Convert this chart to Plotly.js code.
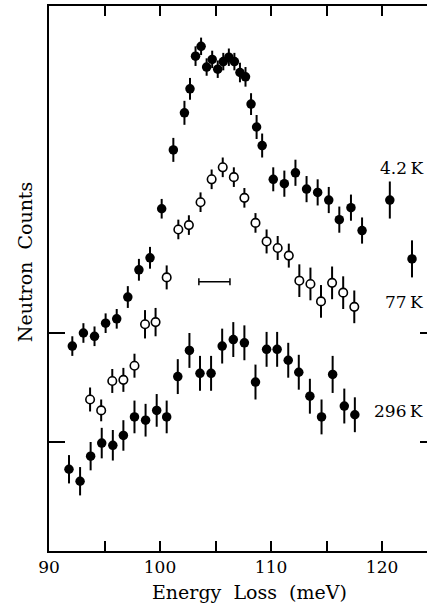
<!DOCTYPE html>
<html>
<head>
<meta charset="utf-8">
<script src="https://cdn.plot.ly/plotly-3.0.1.min.js"></script>
<style>
html,body{margin:0;padding:0;overflow:hidden;background:#fff;}
#chart{width:440px;height:605px;}
</style>
</head>
<body>
<div id="chart"></div>
<script>
// 4.2 K (filled circles, top)
const x42 = [92.1,93.1,94.1,95.1,96.1,97.1,98.1,99.1,100.15,101.2,102.2,102.7,103.2,103.7,104.2,104.7,105.2,105.7,106.2,106.7,107.2,107.7,108.2,108.7,109.2,110.2,111.2,112.2,113.2,114.2,115.2,116.15,117.2,118.2,120.7,122.7];
const y42 = [1.88,2.00,1.97,2.09,2.13,2.33,2.58,2.69,3.14,3.68,4.02,4.24,4.54,4.63,4.44,4.51,4.42,4.49,4.53,4.49,4.39,4.35,4.10,3.89,3.72,3.41,3.37,3.47,3.32,3.29,3.22,3.04,3.15,2.94,3.22,2.68];
const e42 = [0.09,0.09,0.09,0.09,0.09,0.10,0.10,0.10,0.09,0.11,0.11,0.10,0.09,0.08,0.08,0.08,0.08,0.08,0.08,0.08,0.09,0.09,0.10,0.11,0.11,0.11,0.12,0.12,0.12,0.12,0.12,0.12,0.12,0.12,0.17,0.17];

// 77 K (open circles, middle)
const x77 = [93.7,94.7,95.7,96.7,97.7,98.65,99.6,100.6,101.65,102.6,103.65,104.65,105.65,106.65,107.6,108.6,109.6,110.6,111.6,112.55,113.55,114.5,115.5,116.5,117.5];
const y77 = [1.39,1.29,1.56,1.57,1.70,2.08,2.10,2.51,2.95,2.99,3.20,3.41,3.52,3.43,3.24,3.01,2.84,2.78,2.71,2.48,2.45,2.29,2.46,2.37,2.24];
const e77 = [0.11,0.10,0.11,0.11,0.11,0.13,0.13,0.11,0.09,0.09,0.09,0.09,0.09,0.09,0.09,0.09,0.11,0.11,0.11,0.15,0.15,0.15,0.15,0.15,0.15];

// 296 K (filled circles, bottom)
const x296 = [91.8,92.8,93.75,94.75,95.75,96.7,97.7,98.7,99.7,100.6,101.6,102.65,103.6,104.6,105.6,106.6,107.6,108.6,109.6,110.55,111.55,112.5,113.5,114.55,115.55,116.6,117.55];
const y296 = [0.75,0.64,0.87,0.99,0.97,1.06,1.23,1.20,1.29,1.23,1.60,1.84,1.63,1.63,1.88,1.94,1.91,1.55,1.85,1.85,1.75,1.64,1.42,1.23,1.62,1.33,1.25];
const e296 = [0.13,0.13,0.13,0.14,0.14,0.14,0.15,0.15,0.15,0.15,0.16,0.16,0.16,0.16,0.16,0.16,0.16,0.16,0.16,0.16,0.16,0.16,0.16,0.16,0.17,0.16,0.16];

// instrumental resolution bar
const resX = [104.9];
const resY = [2.47];
const resHalfWidth = [1.4];

// ticks and labels
const xTickVals = [90,95,100,105,110,115,120];
const xTickText = ['90','','100','','110','','120'];
const yTickVals = [1,2];
const seriesLabels = ['4.2\u2009K','77\u2009K','296\u2009K'];
const xTitle = 'Energy\u00a0\u00a0Loss\u00a0\u00a0(meV)';
const yTitle = 'Neutron\u00a0\u00a0Counts';

const serif = 'DejaVu Serif, Liberation Serif, serif';

function filled(x,y,e){
  return {x:x,y:y,type:'scatter',mode:'markers',
    marker:{symbol:'circle',size:9.5,color:'#000'},
    error_y:{type:'data',array:e,visible:true,thickness:2,width:0,color:'#000'},
    hoverinfo:'skip',showlegend:false};
}
const traces = [
  filled(x42,y42,e42),
  {x:x77,y:y77,type:'scatter',mode:'markers',
    marker:{symbol:'circle',size:8.5,color:'#fff',line:{color:'#000',width:1.6}},
    error_y:{type:'data',array:e77,visible:true,thickness:2,width:0,color:'#000'},
    hoverinfo:'skip',showlegend:false},
  filled(x296,y296,e296),
  {x:resX,y:resY,type:'scatter',mode:'markers',
    marker:{size:1,color:'rgba(0,0,0,0)'},
    error_x:{type:'data',array:resHalfWidth,visible:true,thickness:1.5,width:3.5,color:'#000'},
    hoverinfo:'skip',showlegend:false}
];

const layout = {
  width:440,height:605,
  margin:{l:49,r:4,t:6,b:54},
  paper_bgcolor:'#fff',plot_bgcolor:'#fff',
  font:{family:serif,size:17,color:'#000'},
  showlegend:false,
  xaxis:{range:[90,124.86],tickvals:xTickVals,ticktext:xTickText,ticks:'inside',ticklen:10,tickwidth:2,tickcolor:'#000',
    showline:true,linewidth:2,linecolor:'#000',mirror:'ticks',showgrid:false,zeroline:false,
    tickfont:{family:serif,size:17,color:'#000'}},
  yaxis:{range:[0,5],tickvals:yTickVals,ticks:'inside',ticklen:16,tickwidth:2,tickcolor:'#000',showticklabels:false,
    showline:true,linewidth:2,linecolor:'#000',mirror:'ticks',showgrid:false,zeroline:false},
  annotations:[
    {xref:'x',yref:'y',x:123.9,y:3.51,text:seriesLabels[0],showarrow:false,xanchor:'right',yanchor:'middle',font:{family:serif,size:17}},
    {xref:'x',yref:'y',x:123.9,y:2.28,text:seriesLabels[1],showarrow:false,xanchor:'right',yanchor:'middle',font:{family:serif,size:17}},
    {xref:'x',yref:'y',x:123.9,y:1.28,text:seriesLabels[2],showarrow:false,xanchor:'right',yanchor:'middle',font:{family:serif,size:17}},
    {xref:'paper',yref:'paper',x:0.519,y:-0.0747,text:xTitle,showarrow:false,xanchor:'center',yanchor:'middle',font:{family:serif,size:19}},
    {xref:'paper',yref:'paper',x:-0.062,y:0.53,text:yTitle,showarrow:false,textangle:-90,xanchor:'center',yanchor:'middle',font:{family:serif,size:19}}
  ]
};

Plotly.newPlot('chart',traces,layout,{staticPlot:true,displayModeBar:false});
</script>
</body>
</html>
